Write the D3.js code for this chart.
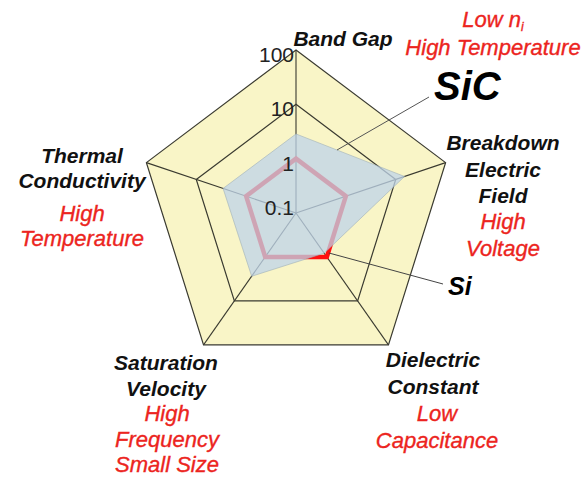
<!DOCTYPE html>
<html>
<head>
    <meta charset="utf-8">
    <title>SiC vs Si</title>
    <script src="https://d3js.org/d3.v7.min.js"></script>
    <style>
        body { margin: 0; background: #fff; }
        text { font-family: "Liberation Sans", Arial, sans-serif; }
    </style>
</head>
<body>
<div id="chart"></div>
<script>

    // Data (values normalised to Si = 1, log scale)
    const axes = ["Band Gap", "Breakdown Electric Field", "Dielectric Constant", "Saturation Velocity", "Thermal Conductivity"];
    const siValues = [1, 1, 1, 1, 1];
    const sicValues = [2.85, 15, 0.82, 2.75, 2.9];
    const tickValues = [0.1, 1, 10, 100];
    const tickLabels = ["0.1", "1", "10", "100"];
    const ringValues = [10, 100];

    // label lines per axis: property name (black) and benefit (red)
    const nameLines = [["Band Gap"], ["Breakdown", "Electric", "Field"], ["Dielectric", "Constant"], ["Saturation", "Velocity"], ["Thermal", "Conductivity"]];
    const benefitLines = [["Low n", "High Temperature"], ["High", "Voltage"], ["Low", "Capacitance"], ["High", "Frequency", "Small Size"], ["High", "Temperature"]];

    const width = 587, height = 479;
    const cx = 296, cy = 213;
    const squeezeX = 0.965; // the pentagon is a bit narrower than tall

    // where each label block sits
    const labelLayout = [
        {nx: 343, ny: 46, bx: 493, by: 27, lh: 28},
        {nx: 503, ny: 150, bx: 503, by: 229, lh: 26.5},
        {nx: 433, ny: 367, bx: 437, by: 421, lh: 27},
        {nx: 166, ny: 370, bx: 167, by: 421, lh: 25.5},
        {nx: 82, ny: 163, bx: 82, by: 221, lh: 25}
    ];

    const svg = d3.select("#chart")
        .append("svg")
        .attr("width", width)
        .attr("height", height);

    const r = d3.scaleLog().domain([0.1, 100]).range([0, 163]);
    const angle = d3.scalePoint().domain(axes).range([0, 2 * Math.PI * 4 / 5]);

    function point(axis, v) {
        const a = angle(axis);
        return [cx + Math.sin(a) * r(v) * squeezeX, cy - Math.cos(a) * r(v)];
    }

    const line = d3.line().curve(d3.curveLinearClosed);

    // yellow background
    svg.append("path")
        .attr("d", line(axes.map(a => point(a, 100))))
        .attr("fill", "#f9f5c7")
        .attr("stroke", "none");

    // spokes
    svg.selectAll(".spoke")
        .data(axes)
        .enter()
        .append("line")
        .attr("x1", cx).attr("y1", cy)
        .attr("x2", d => point(d, 100)[0])
        .attr("y2", d => point(d, 100)[1])
        .attr("stroke", "#3a3a30")
        .attr("stroke-width", 1.1);

    // rings
    svg.selectAll(".ring")
        .data(ringValues)
        .enter()
        .append("path")
        .attr("d", v => line(axes.map(a => point(a, v))))
        .attr("fill", "none")
        .attr("stroke", "#3a3a30")
        .attr("stroke-width", 1.2);

    // Si polygon (red), partly covered by SiC
    svg.append("path")
        .attr("d", line(axes.map((a, i) => point(a, siValues[i]))))
        .attr("fill", "none")
        .attr("stroke", "#ff1010")
        .attr("stroke-width", 4.5)
        .attr("stroke-linejoin", "miter");

    // SiC polygon
    svg.append("path")
        .attr("d", line(axes.map((a, i) => point(a, sicValues[i]))))
        .attr("fill", "rgb(190,212,232)")
        .attr("fill-opacity", 0.76)
        .attr("stroke", "#9fb0b8")
        .attr("stroke-width", 0.6);

    // tick labels
    svg.selectAll(".tick")
        .data(tickValues)
        .enter()
        .append("text")
        .attr("x", cx - 2)
        .attr("y", d => Math.min(cy - r(d) + 12, cy + 2))
        .attr("text-anchor", "end")
        .attr("font-size", 21)
        .attr("fill", "#222")
        .text((d, i) => tickLabels[i]);

    // leader lines
    const siTip = point(axes[2], 1);
    svg.append("line")
        .attr("x1", 337).attr("y1", 150)
        .attr("x2", 429).attr("y2", 97)
        .attr("stroke", "#555").attr("stroke-width", 1);
    svg.append("line")
        .attr("x1", siTip[0] + 2).attr("y1", siTip[1] - 4)
        .attr("x2", 443).attr("y2", 284)
        .attr("stroke", "#444").attr("stroke-width", 1);

    svg.append("text")
        .attr("x", 434).attr("y", 100)
        .attr("font-size", 40)
        .attr("font-weight", "bold")
        .attr("font-style", "italic")
        .attr("fill", "#000")
        .text("SiC");

    svg.append("text")
        .attr("x", 448).attr("y", 295)
        .attr("font-size", 25)
        .attr("font-weight", "bold")
        .attr("font-style", "italic")
        .attr("fill", "#000")
        .text("Si");

    // axis labels
    axes.forEach((a, i) => {
        const L = labelLayout[i];
        nameLines[i].forEach((t, j) => {
            svg.append("text")
                .attr("x", L.nx).attr("y", L.ny + j * L.lh)
                .attr("text-anchor", "middle")
                .attr("font-size", 21)
                .attr("font-weight", "bold")
                .attr("font-style", "italic")
                .attr("fill", "#111")
                .text(t);
        });
        benefitLines[i].forEach((t, j) => {
            const txt = svg.append("text")
                .attr("x", L.bx).attr("y", L.by + j * L.lh)
                .attr("text-anchor", "middle")
                .attr("font-size", 22)
                .attr("font-style", "italic")
                .attr("fill", "#ec2420")
                .attr("stroke", "#ec2420")
                .attr("stroke-width", 0.35)
                .text(t);
            if (i === 0 && j === 0) {
                // subscript i on n
                txt.append("tspan")
                    .attr("font-size", 12)
                    .attr("dy", 4)
                    .text("i");
            }
        });
    });

</script>
</body>
</html>
